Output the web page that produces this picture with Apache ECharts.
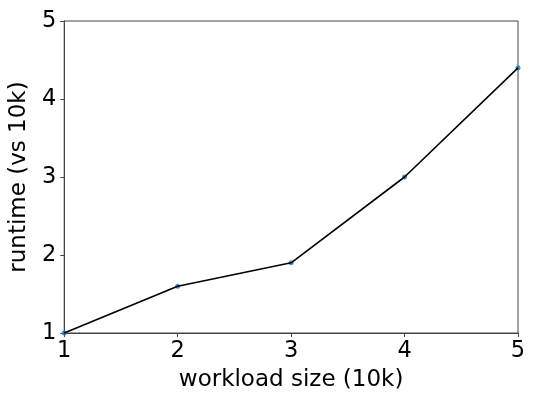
<!DOCTYPE html>
<html><head><meta charset="utf-8">
<script src="https://cdn.jsdelivr.net/npm/echarts@6/dist/echarts.min.js"></script>
<style>html,body{margin:0;padding:0;background:#fff}#c{width:539px;height:406px}</style>
</head><body><div id="c"></div>
<script>
const xValues = [1, 2, 3, 4, 5];
const runtimeValues = [1.0, 1.6, 1.9, 3.0, 4.4];
const xTicks = [1, 2, 3, 4, 5];
const yTicks = [1, 2, 3, 4, 5];
const xTitle = 'workload size (10k)';
const yTitle = 'runtime (vs 10k)';

const pts = xValues.map((x, i) => [x, runtimeValues[i]]);
const font = 'DejaVu Sans';
const chart = echarts.init(document.getElementById('c'), null, {renderer: 'canvas'});
chart.setOption({
  animation: false,
  backgroundColor: '#fff',
  grid: {left: 63, top: 21, right: 21, bottom: 73, show: true, borderColor: '#444', borderWidth: 1, backgroundColor: 'transparent'},
  xAxis: {
    type: 'value', min: xTicks[0], max: xTicks[xTicks.length - 1], interval: 1,
    name: xTitle, nameLocation: 'middle', nameGap: 36,
    nameTextStyle: {fontFamily: font, fontSize: 23, color: '#000'},
    axisLine: {show: true, lineStyle: {color: '#444', width: 1}},
    axisTick: {show: true, length: 4, lineStyle: {color: '#444'}},
    axisLabel: {fontFamily: font, fontSize: 22.5, color: '#000', margin: 7},
    splitLine: {show: false}
  },
  yAxis: {
    type: 'value', min: yTicks[0], max: yTicks[yTicks.length - 1], interval: 1,
    name: yTitle, nameLocation: 'middle', nameGap: 23,
    nameTextStyle: {fontFamily: font, fontSize: 23, color: '#000'},
    axisLine: {show: true, lineStyle: {color: '#444', width: 1}},
    axisTick: {show: true, length: 4, lineStyle: {color: '#444'}},
    axisLabel: {fontFamily: font, fontSize: 22.5, color: '#000', margin: 8},
    splitLine: {show: false}
  },
  series: [
    {type: 'scatter', data: pts, symbol: 'circle', symbolSize: 5, itemStyle: {color: '#1f77b4'}, z: 2, clip: false},
    {type: 'line', data: pts, showSymbol: false, symbol: 'none', lineStyle: {color: '#000', width: 1.6}, z: 3, clip: false}
  ]
});
</script></body></html>
